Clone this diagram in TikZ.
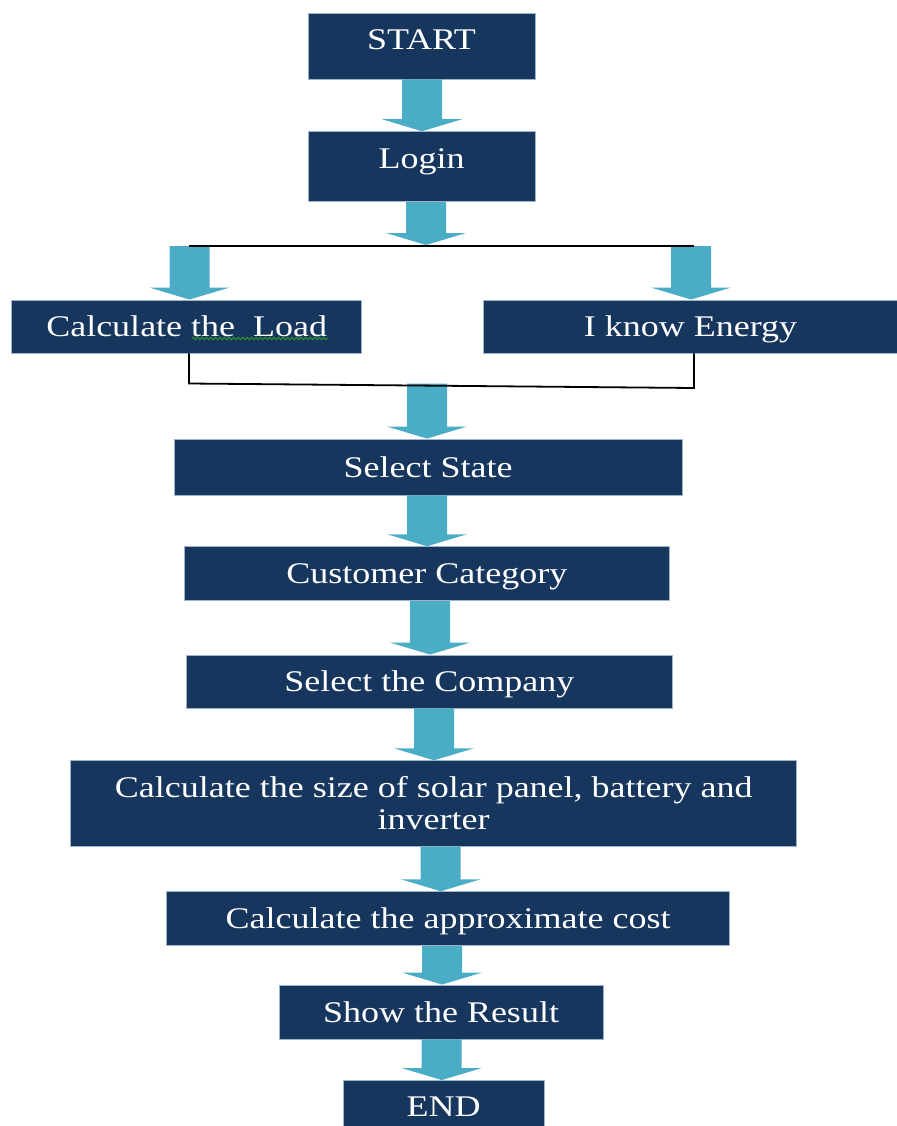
\documentclass[tikz,border=0pt]{standalone}
\usepackage{fontspec}
\setmainfont{Liberation Serif}[FakeStretch=1.2]
\usetikzlibrary{calc,decorations.pathmorphing}
\definecolor{boxnavy}{HTML}{17365D}
\definecolor{boxedge}{HTML}{9FB3CB}
\definecolor{arrowcyan}{HTML}{4BACC6}
\definecolor{squiggle}{HTML}{2E8B2E}
\tikzset{
  flowbox/.style={rectangle, fill=boxnavy, draw=boxedge, line width=0.9pt, text=white,
    inner sep=0pt, font=\fontsize{30}{32}\selectfont},
  oneline/.style={flowbox, text height=20pt, text depth=0pt},
  arrowfill/.style={fill=arrowcyan},
  joinline/.style={draw=black, line width=2pt},
  mergeline/.style={draw=black, line width=1.8pt},
  spellmark/.style={draw=squiggle, line width=1.1pt, decorate,
    decoration={snake, amplitude=1.2pt, segment length=4.5pt}}
}
\newcommand{\blockarrow}[3]{%
  \coordinate (ax) at (#3,0);
  \fill[arrowfill] ($(ax |- #1)+(-20,0)$) -- ($(ax |- #1)+(20,0)$)
    -- ($(ax |- #2)+(20,-12)$) -- ($(ax |- #2)+(40,-12)$) -- (ax |- #2)
    -- ($(ax |- #2)+(-40,-12)$) -- ($(ax |- #2)+(-20,-12)$) -- cycle;}
\begin{document}
\begin{tikzpicture}[x=1pt,y=-1pt]
\useasboundingbox (0,0) rectangle (896,1126);
% boxes
\node[oneline, text depth=12pt, minimum width=227pt, minimum height=66pt] (start) at (421.5,46) {START};
\node[oneline, text depth=17pt, minimum width=227pt, minimum height=70pt] (login) at (421.5,166.7) {Login};
\node[oneline, minimum width=350pt, minimum height=53pt] (load) at (186.7,326.5) {Calculate the~ Load};
\node[oneline, minimum width=415pt, minimum height=53pt] (energy) at (690.5,326.5) {I know Energy};
\node[oneline, minimum width=508pt, minimum height=56pt] (state) at (428,467) {Select State};
\node[oneline, minimum width=485.6pt, minimum height=54pt] (customer) at (426.8,573.7) {Customer Category};
\node[oneline, minimum width=485.4pt, minimum height=53pt] (company) at (429.3,681.5) {Select the Company};
\node[flowbox, align=center, minimum width=726pt, minimum height=85.3pt] (sizebox) at (433.7,803.4)
  {Calculate the size of solar panel, battery and\\inverter};
\node[oneline, minimum width=563pt, minimum height=54pt] (cost) at (448,918.7) {Calculate the approximate cost};
\node[oneline, minimum width=324pt, minimum height=54pt] (result) at (441,1012) {Show the Result};
\node[oneline, minimum width=200.5pt, minimum height=51pt] (finish) at (443.7,1106) {END};
% junction points
\coordinate (jl) at (189,246);
\coordinate (jr) at (694,246);
\coordinate (jt) at (426,245);
\coordinate (mL) at (189,383.5);
\coordinate (mR) at (694,388);
% block arrows
\blockarrow{start.south}{login.north}{422}
\blockarrow{login.south}{jt}{426}
\blockarrow{jl}{load.north}{189.5}
\blockarrow{jr}{energy.north}{691}
\blockarrow{mL}{state.north}{427}
\blockarrow{state.south}{customer.north}{427}
\blockarrow{customer.south}{company.north}{430}
\blockarrow{company.south}{sizebox.north}{434}
\blockarrow{sizebox.south}{cost.north}{440.7}
\blockarrow{cost.south}{result.north}{442}
\blockarrow{result.south}{finish.north}{441.7}
% lines
\draw[joinline] (jl) -- (jr);
\draw[mergeline] (load.south -| mL) -- (mL) -- (mR) -- (energy.south -| mR);
% spell-check mark
\draw[spellmark] (191.7,338.5) -- (328,338.5);
\end{tikzpicture}
\end{document}
